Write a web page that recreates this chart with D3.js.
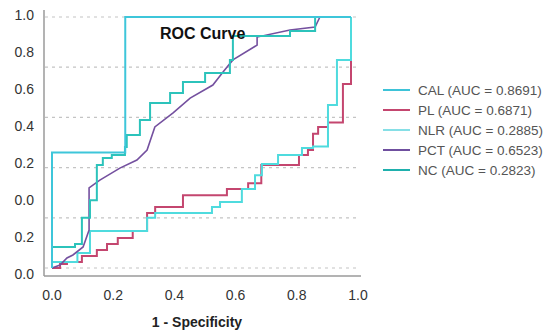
<!DOCTYPE html>
<html>
<head>
<meta charset="utf-8">
<script src="https://cdn.jsdelivr.net/npm/d3@7"></script>
<style>
  html, body { margin: 0; padding: 0; background: #fff; }
  svg { display: block; }
</style>
</head>
<body>
<svg id="chart" width="550" height="336"></svg>
<script>
// ---------- data ----------
const seriesNames = ["CAL", "PL", "NLR", "PCT", "NC"];
const aucLabels = ["0.8691", "0.6871", "0.2885", "0.6523", "0.2823"];

// each curve: [1 - specificity, sensitivity]
const calPoints = [[0,0],[0,0.46],[0.245,0.46],[0.245,1],[1,1]];

const plPoints = [[0,0],[0.027,0],[0.027,0.016],[0.05,0.016],[0.05,0.024],[0.1,0.024],[0.1,0.048],
  [0.15,0.048],[0.15,0.072],[0.184,0.072],[0.184,0.096],[0.22,0.096],[0.22,0.12],[0.27,0.12],
  [0.27,0.147],[0.318,0.147],[0.318,0.219],[0.345,0.219],[0.345,0.243],[0.438,0.243],[0.438,0.29],
  [0.585,0.29],[0.585,0.315],[0.656,0.315],[0.656,0.338],[0.70,0.338],[0.70,0.41],[0.826,0.41],
  [0.826,0.45],[0.856,0.45],[0.856,0.47],[0.873,0.47],[0.873,0.535],[0.89,0.535],[0.89,0.562],
  [0.923,0.562],[0.923,0.58],[0.973,0.58],[0.973,0.733],[1,0.733],[1,1]];

const nlrPoints = [[0,0],[0,0.024],[0.085,0.024],[0.085,0.06],[0.127,0.06],[0.127,0.147],[0.318,0.147],
  [0.318,0.2],[0.345,0.2],[0.345,0.219],[0.535,0.219],[0.535,0.243],[0.562,0.243],[0.562,0.263],
  [0.635,0.263],[0.635,0.315],[0.679,0.315],[0.679,0.37],[0.702,0.37],[0.702,0.414],[0.756,0.414],
  [0.756,0.45],[0.836,0.45],[0.836,0.478],[0.873,0.478],[0.873,0.484],[0.923,0.484],[0.923,0.649],
  [0.953,0.649],[0.953,0.829],[1,0.829],[1,1]];

const pctPoints = [[0,0],[0.027,0.012],[0.05,0.04],[0.07,0.052],[0.104,0.084],[0.124,0.151],[0.124,0.319],
  [0.16,0.35],[0.227,0.398],[0.284,0.43],[0.318,0.47],[0.344,0.562],[0.405,0.618],[0.462,0.677],
  [0.538,0.729],[0.572,0.781],[0.605,0.829],[0.686,0.888],[0.686,0.92],[0.796,0.948],[0.88,0.96],
  [0.896,1],[1,1]];

const ncPoints = [[0,0],[0,0.084],[0.077,0.084],[0.077,0.096],[0.1,0.096],[0.1,0.2],[0.127,0.2],[0.127,0.27],
  [0.15,0.27],[0.15,0.41],[0.17,0.41],[0.17,0.438],[0.2,0.438],[0.2,0.45],[0.244,0.45],[0.244,0.482],
  [0.25,0.482],[0.25,0.53],[0.294,0.53],[0.294,0.59],[0.328,0.59],[0.328,0.657],[0.395,0.657],
  [0.395,0.697],[0.438,0.697],[0.438,0.741],[0.512,0.741],[0.512,0.777],[0.595,0.777],[0.595,0.829],
  [0.605,0.829],[0.605,0.924],[0.796,0.924],[0.796,0.944],[0.88,0.944],[0.88,1],[1,1]];

const xTickValues = [0, 0.2, 0.4, 0.6, 0.8, 1.0];
const yTickLabels = ["1.0", "0.8", "0.6", "0.4", "0.2", "0.0", "0.2", "0.0"];
const gridValues = [0, 0.2, 0.4, 0.6, 0.8, 1.0];

// ---------- styling / layout ----------
const colors = { CAL: "#3ec6da", PL: "#c4466f", NLR: "#4fdbde", PCT: "#74509f", NC: "#2cc3bb" };
const legendColors = { CAL: "#3ec3d8", PL: "#c4466f", NLR: "#86dfe6", PCT: "#6f4f9f", NC: "#1fb0ad" };
const pointsBy = { CAL: calPoints, PL: plPoints, NLR: nlrPoints, PCT: pctPoints, NC: ncPoints };
const drawOrder = ["PL", "NLR", "PCT", "NC", "CAL"];

const svg = d3.select("#chart");
const x = d3.scaleLinear().domain([0, 1]).range([52, 351]);
const xTickScale = d3.scaleLinear().domain([0, 1]).range([52, 358]);
const y = d3.scaleLinear().domain([0, 1]).range([268, 17]);
const yLabelScale = d3.scalePoint().domain(d3.range(yTickLabels.length)).range([15, 274]);

const axisColor = "#9a9a9a";
const font = "'Liberation Sans', Arial, sans-serif";

// grid
svg.append("g").selectAll("line").data(gridValues).join("line")
  .attr("x1", 45).attr("x2", 360)
  .attr("y1", d => y(d)).attr("y2", d => y(d))
  .attr("stroke", "#c4c4c4").attr("stroke-width", 1.2)
  .attr("stroke-dasharray", "3,4");

// axes frame lines
svg.append("line").attr("x1", 44).attr("x2", 44).attr("y1", 10).attr("y2", 276)
  .attr("stroke", axisColor).attr("stroke-width", 1.5);
svg.append("line").attr("x1", 44).attr("x2", 361).attr("y1", 276).attr("y2", 276)
  .attr("stroke", axisColor).attr("stroke-width", 1.5);

// y labels
svg.append("g").selectAll("text").data(yTickLabels).join("text")
  .attr("x", 34).attr("y", (d, i) => yLabelScale(i))
  .attr("dy", "0.36em").attr("text-anchor", "end")
  .attr("font-family", font).attr("font-size", 14).attr("fill", "#333")
  .text(d => d);

// x labels
svg.append("g").selectAll("text").data(xTickValues).join("text")
  .attr("x", d => xTickScale(d)).attr("y", 295)
  .attr("dy", "0.36em").attr("text-anchor", "middle")
  .attr("font-family", font).attr("font-size", 14).attr("fill", "#333")
  .text(d => d3.format(".1f")(d));

svg.append("text").attr("x", 197).attr("y", 322).attr("dy", "0.36em")
  .attr("text-anchor", "middle").attr("font-family", font).attr("font-size", 14)
  .attr("font-weight", "bold").attr("fill", "#222").text("1 - Specificity");

// curves
const line = d3.line().x(d => x(d[0])).y(d => y(d[1]));
svg.append("g").selectAll("path").data(drawOrder).join("path")
  .attr("d", k => line(pointsBy[k]))
  .attr("fill", "none")
  .attr("stroke", k => colors[k])
  .attr("stroke-width", k => k === "PCT" ? 1.6 : 2)
  .attr("stroke-linejoin", "miter");

// title
svg.append("text").attr("x", 160).attr("y", 33).attr("dy", "0.36em")
  .attr("font-family", font).attr("font-size", 16).attr("font-weight", "bold")
  .attr("fill", "#111").text("ROC Curve");

// legend
const legendY = d3.scalePoint().domain(seriesNames).range([90, 170]);
const lg = svg.append("g").selectAll("g").data(seriesNames).join("g")
  .attr("transform", d => `translate(0,${legendY(d)})`);
lg.append("line").attr("x1", 383).attr("x2", 410).attr("y1", 0).attr("y2", 0)
  .attr("stroke", d => legendColors[d]).attr("stroke-width", 2);
lg.append("text").attr("x", 418).attr("y", 0).attr("dy", "0.36em")
  .attr("font-family", font).attr("font-size", 13.5).attr("fill", "#555")
  .text((d, i) => `${d} (AUC = ${aucLabels[i]})`);
</script>
</body>
</html>
